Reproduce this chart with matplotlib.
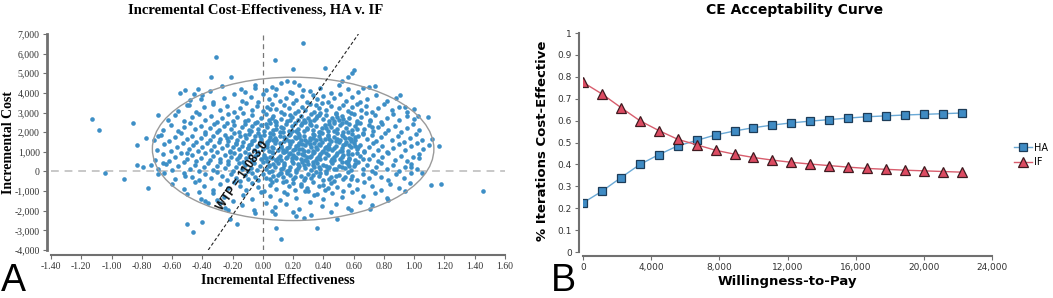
import math
import matplotlib
matplotlib.use("Agg")
import matplotlib.pyplot as plt
from matplotlib.patches import Ellipse
from matplotlib.ticker import FuncFormatter, MultipleLocator

# --- CEAC data (panel B) ---
wtp_values = [0, 1111, 2222, 3333, 4444, 5556, 6667, 7778, 8889, 10000, 11111,
              12222, 13333, 14444, 15556, 16667, 17778, 18889, 20000, 21111, 22222]
ha_values = [0.225, 0.278, 0.340, 0.400, 0.445, 0.485, 0.510, 0.535, 0.553, 0.568, 0.580,
             0.590, 0.598, 0.605, 0.612, 0.618, 0.622, 0.626, 0.629, 0.632, 0.635]
if_values = [0.775, 0.722, 0.660, 0.600, 0.555, 0.515, 0.490, 0.465, 0.447, 0.432, 0.420,
             0.410, 0.402, 0.395, 0.388, 0.382, 0.378, 0.374, 0.371, 0.368, 0.365]

# --- ICE scatter data (panel A) ---
wtp_threshold = 11083.0
ellipse_center = (0.20, 1150)
ellipse_size = (1.86, 7300)

outlier_points = [
    (-1.13, 2650), (-1.08, 2090), (-0.86, 2450), (-0.83, 1330), (-0.775, 1680), (-0.69, 2860),
    (-0.69, 1800), (-0.55, 3980), (-0.515, 4150), (-0.49, 3400), (-0.456, 3950), (-0.43, 4220),
    (-0.41, 3670), (-0.345, 4830), (-0.31, 5850), (-0.21, 4800), (0.08, 5680), (0.196, 5200),
    (0.267, 6530), (0.41, 5250), (0.60, 5170), (0.59, 5035), (0.565, 4830), (0.524, 4610),
    (0.74, 4350), (0.66, 4230), (0.905, 3890), (0.94, 3260), (1.025, 2820), (1.09, 2790),
    (1.165, 1290), (0.157, 4610), (0.205, 4575), (0.09, 4220), (-0.053, 4270), (-0.147, 4180),
    (0.262, 4150), (-1.04, -100), (-0.92, -370), (-0.83, 320), (-0.79, 220), (-0.76, -830),
    (-0.736, 320), (-0.69, -150), (-0.66, 410), (-0.50, -2700), (-0.46, -3100), (-0.40, -2590),
    (-0.22, -2400), (-0.17, -2650), (0.084, -2890), (0.12, -3440), (0.36, -2900), (0.49, -2400),
    (0.58, -1940), (0.71, -1900), (0.83, -1430), (0.94, -1000), (0.97, -580), (1.05, -100),
    (1.108, -680), (1.18, -630), (1.456, -990), (1.115, 1650), (0.98, 240), (1.03, 700),
    (0.32, -2200), (0.20, -2070), (-0.515, -240), (-0.504, 950), (-0.42, -1050), (-0.38, -1500),
    (-0.306, -1460), (-0.28, -1600), (-0.23, -1940),
]

core_points = [
    # 4000 .. 4500
    (-0.35, 4100), (-0.27, 4350), (-0.12, 4050), (-0.05, 4400), (0.02, 4150), (0.06, 4300),
    (0.12, 4480), (0.18, 4050), (0.24, 4380), (0.31, 4120), (0.38, 4250), (0.45, 4020),
    (0.50, 4420), (0.56, 4180), (0.63, 4050), (0.70, 4300),
    # 3500 .. 4000
    (-0.48, 3620), (-0.40, 3880), (-0.33, 3550), (-0.26, 3760), (-0.19, 3920), (-0.14, 3600),
    (-0.08, 3810), (-0.03, 3540), (0.00, 3950), (0.04, 3700), (0.08, 3870), (0.11, 3580),
    (0.15, 3760), (0.19, 3990), (0.22, 3640), (0.26, 3820), (0.29, 3530), (0.33, 3910),
    (0.36, 3690), (0.40, 3850), (0.43, 3560), (0.47, 3740), (0.51, 3960), (0.55, 3600),
    (0.59, 3800), (0.64, 3520), (0.69, 3700), (0.75, 3900), (0.82, 3580), (0.88, 3750),
    # 3000 .. 3500
    (-0.56, 3100), (-0.50, 3380), (-0.44, 3050), (-0.39, 3260), (-0.33, 3450), (-0.28, 3150),
    (-0.24, 3320), (-0.19, 3020), (-0.15, 3240), (-0.11, 3470), (-0.07, 3130), (-0.04, 3350),
    (0.00, 3060), (0.03, 3280), (0.06, 3440), (0.09, 3170), (0.12, 3010), (0.14, 3360),
    (0.17, 3210), (0.20, 3480), (0.23, 3090), (0.26, 3300), (0.28, 3150), (0.31, 3420),
    (0.34, 3040), (0.37, 3250), (0.39, 3470), (0.42, 3120), (0.45, 3330), (0.48, 3000),
    (0.50, 3220), (0.53, 3400), (0.56, 3080), (0.59, 3290), (0.62, 3460), (0.65, 3150),
    (0.68, 3350), (0.72, 3030), (0.76, 3240), (0.80, 3450), (0.85, 3110), (0.90, 3300),
    (0.95, 3050), (1.00, 3200), (0.05, 3180), (0.35, 3380),
    # 2500 .. 3000
    (-0.63, 2600), (-0.58, 2850), (-0.52, 2550), (-0.47, 2750), (-0.42, 2950), (-0.38, 2620),
    (-0.34, 2820), (-0.30, 2510), (-0.27, 2700), (-0.23, 2910), (-0.20, 2580), (-0.17, 2790),
    (-0.13, 2980), (-0.10, 2640), (-0.07, 2860), (-0.04, 2530), (-0.01, 2730), (0.02, 2940),
    (0.04, 2600), (0.07, 2810), (0.09, 2500), (0.12, 2690), (0.14, 2900), (0.16, 2570),
    (0.19, 2770), (0.21, 2970), (0.23, 2630), (0.25, 2840), (0.28, 2540), (0.30, 2720),
    (0.32, 2930), (0.34, 2600), (0.36, 2800), (0.38, 2990), (0.40, 2660), (0.42, 2870),
    (0.44, 2550), (0.46, 2740), (0.48, 2950), (0.50, 2610), (0.52, 2820), (0.55, 2520),
    (0.57, 2710), (0.60, 2900), (0.62, 2580), (0.65, 2780), (0.68, 2960), (0.71, 2640),
    (0.74, 2850), (0.78, 2540), (0.82, 2730), (0.86, 2920), (0.90, 2600), (0.95, 2800),
    (1.00, 2680), (0.18, 2860), (0.27, 2610), (0.37, 2890), (0.47, 2580), (0.58, 2980),
    (0.06, 2700), (-0.12, 2550),
    # 2000 .. 2500
    (-0.66, 2100), (-0.61, 2380), (-0.56, 2040), (-0.52, 2260), (-0.48, 2470), (-0.45, 2150),
    (-0.41, 2330), (-0.38, 2020), (-0.35, 2210), (-0.32, 2440), (-0.29, 2090), (-0.26, 2300),
    (-0.24, 2480), (-0.21, 2170), (-0.19, 2360), (-0.16, 2030), (-0.14, 2240), (-0.12, 2420),
    (-0.09, 2110), (-0.07, 2310), (-0.05, 2490), (-0.03, 2180), (-0.01, 2370), (0.01, 2060),
    (0.03, 2250), (0.05, 2450), (0.07, 2130), (0.09, 2340), (0.11, 2010), (0.13, 2200),
    (0.15, 2400), (0.17, 2080), (0.19, 2290), (0.21, 2470), (0.23, 2160), (0.25, 2350),
    (0.27, 2040), (0.29, 2230), (0.31, 2430), (0.33, 2120), (0.35, 2320), (0.37, 2000),
    (0.39, 2190), (0.41, 2390), (0.43, 2070), (0.45, 2280), (0.47, 2460), (0.49, 2150),
    (0.51, 2340), (0.53, 2030), (0.55, 2220), (0.57, 2420), (0.59, 2100), (0.61, 2300),
    (0.64, 2480), (0.67, 2170), (0.70, 2360), (0.73, 2050), (0.76, 2250), (0.79, 2440),
    (0.83, 2130), (0.87, 2320), (0.91, 2020), (0.95, 2210), (0.99, 2400), (1.03, 2110),
    (0.12, 2270), (0.22, 2050), (0.32, 2380), (0.42, 2230), (0.52, 2470), (0.02, 2410),
    (-0.08, 2060), (0.62, 2140), (0.72, 2280),
    # 1500 .. 2000
    (-0.72, 1600), (-0.67, 1880), (-0.62, 1540), (-0.58, 1760), (-0.54, 1950), (-0.50, 1630),
    (-0.47, 1830), (-0.44, 1520), (-0.41, 1710), (-0.38, 1920), (-0.35, 1580), (-0.33, 1790),
    (-0.30, 1990), (-0.28, 1650), (-0.25, 1860), (-0.23, 1530), (-0.21, 1740), (-0.19, 1940),
    (-0.17, 1610), (-0.15, 1820), (-0.13, 1500), (-0.11, 1700), (-0.09, 1900), (-0.07, 1570),
    (-0.05, 1780), (-0.03, 1970), (-0.01, 1640), (0.01, 1850), (0.03, 1520), (0.05, 1730),
    (0.07, 1930), (0.09, 1600), (0.11, 1810), (0.13, 1990), (0.15, 1670), (0.17, 1870),
    (0.19, 1550), (0.21, 1750), (0.23, 1960), (0.25, 1620), (0.27, 1830), (0.29, 1510),
    (0.31, 1720), (0.33, 1920), (0.35, 1590), (0.37, 1800), (0.39, 1980), (0.41, 1660),
    (0.43, 1860), (0.45, 1540), (0.47, 1740), (0.49, 1950), (0.51, 1610), (0.53, 1820),
    (0.55, 1500), (0.57, 1710), (0.59, 1910), (0.61, 1580), (0.63, 1790), (0.66, 1970),
    (0.69, 1650), (0.72, 1850), (0.75, 1530), (0.78, 1730), (0.81, 1940), (0.85, 1600),
    (0.89, 1800), (0.93, 1520), (0.97, 1720), (1.01, 1900), (1.05, 1620), (0.08, 1700),
    (0.18, 1920), (0.28, 1580), (0.38, 1660), (0.48, 1560), (0.58, 1640), (0.14, 1560),
    (0.24, 1760), (0.34, 1880), (0.44, 1640), (0.54, 1700), (-0.02, 1800), (0.04, 1620),
    # 1000 .. 1500
    (-0.70, 1100), (-0.65, 1380), (-0.61, 1050), (-0.57, 1260), (-0.53, 1470), (-0.49, 1140),
    (-0.46, 1340), (-0.43, 1020), (-0.40, 1220), (-0.37, 1430), (-0.34, 1090), (-0.32, 1300),
    (-0.29, 1490), (-0.27, 1170), (-0.24, 1370), (-0.22, 1040), (-0.20, 1250), (-0.18, 1450),
    (-0.16, 1120), (-0.14, 1320), (-0.12, 1000), (-0.10, 1200), (-0.08, 1410), (-0.06, 1080),
    (-0.04, 1280), (-0.02, 1480), (0.00, 1150), (0.02, 1350), (0.04, 1030), (0.06, 1230),
    (0.08, 1440), (0.10, 1110), (0.12, 1310), (0.14, 1010), (0.16, 1210), (0.18, 1420),
    (0.20, 1090), (0.22, 1290), (0.24, 1470), (0.26, 1160), (0.28, 1360), (0.30, 1050),
    (0.32, 1250), (0.34, 1450), (0.36, 1130), (0.38, 1330), (0.40, 1020), (0.42, 1220),
    (0.44, 1420), (0.46, 1100), (0.48, 1300), (0.50, 1480), (0.52, 1180), (0.54, 1380),
    (0.56, 1060), (0.58, 1260), (0.60, 1460), (0.62, 1140), (0.64, 1340), (0.67, 1030),
    (0.70, 1230), (0.73, 1430), (0.76, 1110), (0.79, 1310), (0.82, 1010), (0.86, 1210),
    (0.90, 1410), (0.94, 1090), (0.98, 1290), (1.02, 1470), (1.06, 1160), (1.10, 1360),
    (0.07, 1180), (0.17, 1270), (0.27, 1060), (0.37, 1400), (0.47, 1190), (0.57, 1350),
    (0.11, 1460), (0.21, 1140), (0.31, 1390), (0.41, 1170), (0.51, 1040), (0.61, 1280),
    (-0.09, 1330), (0.03, 1250), (0.13, 1100), (0.23, 1360), (0.33, 1030), (0.43, 1290),
    # 500 .. 1000
    (-0.71, 600), (-0.66, 880), (-0.62, 540), (-0.58, 760), (-0.54, 950), (-0.50, 630),
    (-0.47, 830), (-0.44, 520), (-0.41, 710), (-0.38, 920), (-0.35, 580), (-0.33, 790),
    (-0.30, 990), (-0.28, 650), (-0.25, 860), (-0.23, 530), (-0.21, 740), (-0.19, 940),
    (-0.17, 610), (-0.15, 820), (-0.13, 500), (-0.11, 700), (-0.09, 900), (-0.07, 570),
    (-0.05, 780), (-0.03, 970), (-0.01, 640), (0.01, 850), (0.03, 520), (0.05, 730),
    (0.07, 930), (0.09, 600), (0.11, 810), (0.13, 990), (0.15, 670), (0.17, 870),
    (0.19, 550), (0.21, 750), (0.23, 960), (0.25, 620), (0.27, 830), (0.29, 510),
    (0.31, 720), (0.33, 920), (0.35, 590), (0.37, 800), (0.39, 980), (0.41, 660),
    (0.43, 860), (0.45, 540), (0.47, 740), (0.49, 950), (0.51, 610), (0.53, 820),
    (0.55, 500), (0.57, 710), (0.59, 910), (0.61, 580), (0.64, 790), (0.67, 970),
    (0.70, 650), (0.73, 850), (0.76, 530), (0.79, 730), (0.83, 940), (0.87, 600),
    (0.91, 800), (0.95, 520), (0.99, 720), (1.03, 900), (0.06, 660), (0.16, 760),
    (0.26, 900), (0.36, 700), (0.46, 640), (0.56, 880), (0.12, 560), (0.22, 680),
    (0.32, 780), (0.42, 960), (0.52, 720), (0.02, 690), (0.18, 930),
    # 0 .. 500
    (-0.69, 100), (-0.64, 380), (-0.60, 50), (-0.56, 260), (-0.52, 470), (-0.48, 140),
    (-0.45, 340), (-0.42, 20), (-0.39, 220), (-0.36, 430), (-0.33, 90), (-0.30, 300),
    (-0.28, 490), (-0.25, 170), (-0.23, 370), (-0.20, 40), (-0.18, 250), (-0.16, 450),
    (-0.14, 120), (-0.12, 320), (-0.10, 10), (-0.08, 200), (-0.06, 410), (-0.04, 80),
    (-0.02, 280), (0.00, 480), (0.02, 150), (0.04, 350), (0.06, 30), (0.08, 230),
    (0.10, 440), (0.12, 110), (0.14, 310), (0.16, 10), (0.18, 210), (0.20, 420),
    (0.22, 90), (0.24, 290), (0.26, 470), (0.28, 160), (0.30, 360), (0.32, 50),
    (0.34, 250), (0.36, 450), (0.38, 130), (0.40, 330), (0.42, 20), (0.44, 220),
    (0.46, 420), (0.48, 100), (0.50, 300), (0.52, 480), (0.54, 180), (0.56, 380),
    (0.58, 60), (0.60, 260), (0.63, 460), (0.66, 140), (0.69, 340), (0.72, 30),
    (0.75, 230), (0.78, 430), (0.82, 110), (0.86, 310), (0.90, 20), (0.94, 210),
    (0.98, 400), (1.02, 120), (0.07, 390), (0.17, 60), (0.27, 330), (0.37, 240),
    (0.47, 140), (0.57, 290), (0.13, 190), (0.23, 380), (0.33, 460), (0.43, 170),
    # -500 .. 0
    (-0.65, -100), (-0.58, -380), (-0.52, -60), (-0.47, -260), (-0.42, -450), (-0.38, -140),
    (-0.34, -340), (-0.30, -30), (-0.27, -230), (-0.24, -430), (-0.21, -110), (-0.18, -310),
    (-0.15, -480), (-0.12, -180), (-0.10, -380), (-0.07, -60), (-0.05, -260), (-0.03, -460),
    (0.00, -140), (0.02, -340), (0.04, -20), (0.07, -220), (0.09, -420), (0.11, -100),
    (0.13, -300), (0.15, -490), (0.18, -170), (0.20, -370), (0.22, -50), (0.25, -250),
    (0.27, -450), (0.30, -130), (0.32, -330), (0.35, -20), (0.37, -220), (0.40, -410),
    (0.42, -90), (0.45, -290), (0.47, -470), (0.50, -160), (0.53, -360), (0.56, -40),
    (0.59, -240), (0.62, -440), (0.66, -120), (0.70, -320), (0.74, -70), (0.78, -270),
    (0.83, -450), (0.88, -150), (0.93, -350), (0.98, -60), (0.10, -200), (0.28, -310),
    (0.38, -80), (0.48, -240), (0.16, -90), (0.58, -360),
    # -1000 .. -500
    (-0.60, -620), (-0.52, -880), (-0.45, -560), (-0.39, -760), (-0.33, -950), (-0.28, -640),
    (-0.23, -840), (-0.19, -530), (-0.15, -720), (-0.11, -920), (-0.07, -600), (-0.03, -800),
    (0.01, -990), (0.05, -680), (0.09, -880), (0.13, -560), (0.17, -760), (0.21, -960),
    (0.25, -640), (0.29, -840), (0.33, -520), (0.37, -720), (0.41, -920), (0.45, -600),
    (0.49, -800), (0.53, -980), (0.57, -680), (0.62, -880), (0.67, -560), (0.72, -760),
    (0.78, -960), (0.84, -640), (0.90, -840), (0.20, -580), (0.40, -680), (0.06, -560),
    (0.30, -980),
    # -1500 .. -1000
    (-0.50, -1150), (-0.41, -1400), (-0.33, -1080), (-0.26, -1300), (-0.20, -1480),
    (-0.13, -1180), (-0.07, -1380), (-0.01, -1060), (0.05, -1260), (0.11, -1460),
    (0.16, -1140), (0.22, -1340), (0.28, -1020), (0.34, -1220), (0.40, -1420),
    (0.46, -1100), (0.52, -1300), (0.59, -1050), (0.66, -1250), (0.74, -1120),
    (0.82, -1350), (0.14, -1040), (0.36, -1130),
    # -2000 .. -1500
    (-0.36, -1620), (-0.25, -1850), (-0.14, -1700), (-0.06, -1950), (0.02, -1600),
    (0.08, -1800), (0.15, -1680), (0.24, -1900), (0.31, -1560), (0.39, -1760),
    (0.48, -1640), (0.56, -1860), (0.64, -1580), (0.72, -1700), (0.06, -2000),
    # below -2000
    (0.08, -2150), (0.22, -2250), (-0.05, -2100), (0.45, -2050), (0.27, -2350),
]

# the densest part of the cloud, right of the y axis
dense_points = [
    (0.05, 1950), (0.09, 2180), (0.14, 1730), (0.19, 2050), (0.24, 1880), (0.29, 2140),
    (0.33, 1700), (0.38, 2010), (0.43, 1790), (0.47, 2060), (0.52, 1880), (0.56, 2000),
    (0.61, 1750), (0.66, 1900), (0.03, 1380), (0.07, 1600), (0.12, 1240), (0.17, 1530),
    (0.22, 1700), (0.26, 1420), (0.31, 1580), (0.35, 1270), (0.39, 1520), (0.44, 1180),
    (0.49, 1640), (0.53, 1330), (0.58, 1560), (0.63, 1220), (0.01, 760), (0.06, 980),
    (0.10, 690), (0.15, 1060), (0.20, 850), (0.24, 1140), (0.29, 760), (0.34, 1010),
    (0.38, 880), (0.43, 1120), (0.48, 820), (0.52, 1040), (0.57, 640), (0.62, 940),
    (0.04, 260), (0.09, 560), (0.14, 420), (0.19, 660), (0.23, 180), (0.28, 560),
    (0.33, 340), (0.38, 620), (0.42, 270), (0.47, 580), (0.52, 220), (0.56, 530),
    (0.61, 380), (0.66, 620), (0.18, 2620), (0.26, 2480), (0.35, 2710), (0.44, 2400),
    (0.53, 2650), (0.62, 2460), (0.71, 2560), (0.08, 2580), (0.31, 2560), (0.49, 2780),
    (-0.06, 1600), (-0.12, 1870), (-0.18, 1420), (-0.24, 1700), (-0.04, 890), (-0.10, 1180),
    (-0.16, 740), (-0.22, 1010), (0.12, -60), (0.21, -280), (0.33, -160), (0.44, -360),
    (0.54, -260), (0.05, -400), (0.25, -720), (0.43, -820),
]

x_ticks = [-1.4 + 0.2 * i for i in range(16)]
y_ticks = list(range(-4000, 7001, 1000))

SCATTER_BLUE = "#3d8fc6"
AXIS_GREY = "#707070"

fig = plt.figure(figsize=(10.53, 2.98), dpi=100)

# ---------------- Panel A ----------------
serif = "Liberation Serif"
ax1 = fig.add_axes([0.0484, 0.161, 0.4312, 0.725])
ax1.set_xlim(-1.4, 1.6)
ax1.set_ylim(-4000, 7000)

pts = core_points + dense_points + outlier_points
ax1.scatter([p[0] for p in pts], [p[1] for p in pts], s=11, color=SCATTER_BLUE,
            linewidths=0, zorder=3)

ax1.add_patch(Ellipse(ellipse_center, ellipse_size[0], ellipse_size[1], fill=False,
                      edgecolor="#9a9a9a", lw=1.0, zorder=4))
ax1.axhline(0, color="#c8c8c8", ls=(0, (4, 3)), lw=1.4, zorder=2)
ax1.plot([0, 0], [-4000, 7000], color="#777777", ls=(0, (4, 3)), lw=0.9, zorder=2)

# WTP threshold line through the origin
wy = [-4000, 7000]
ax1.plot([v / wtp_threshold for v in wy], wy, color="#222222", ls=(0, (3, 2)),
         lw=0.8, zorder=5)
p0 = ax1.transData.transform((0, 0))
p1 = ax1.transData.transform((7000 / wtp_threshold, 7000))
angle = math.degrees(math.atan2(p1[1] - p0[1], p1[0] - p0[0]))
ax1.text(-0.13, -250, f"WTP = {wtp_threshold:.1f}", rotation=angle, rotation_mode="anchor",
         ha="center", va="center", fontsize=8.5, fontweight="bold",
         family="Liberation Sans", color="#111111", zorder=6)

ax1.set_xticks(x_ticks)
ax1.set_yticks(y_ticks)
ax1.xaxis.set_major_formatter(FuncFormatter(lambda v, p: f"{v:.2f}"))
ax1.yaxis.set_major_formatter(FuncFormatter(lambda v, p: f"{v:,.0f}"))
for s in ("top", "right"):
    ax1.spines[s].set_visible(False)
ax1.spines["left"].set_position(("outward", 3))
ax1.spines["bottom"].set_position(("outward", 3.6))
ax1.spines["left"].set_linewidth(2)
ax1.spines["bottom"].set_linewidth(1.5)
for s in ("left", "bottom"):
    ax1.spines[s].set_color(AXIS_GREY)
ax1.tick_params(length=3, width=0.8, color=AXIS_GREY, labelsize=7, labelcolor="#333333",
                pad=2)
for lab in ax1.get_xticklabels() + ax1.get_yticklabels():
    lab.set_family(serif)

fig.text(256 / 1053, 1 - 10 / 298, "Incremental Cost-Effectiveness, HA v. IF",
         ha="center", va="center", family=serif, fontweight="bold", fontsize=10.5)
fig.text(278 / 1053, 1 - 281 / 298, "Incremental Effectiveness", ha="center", va="center",
         family=serif, fontweight="bold", fontsize=10)
fig.text(9 / 1053, 1 - 143 / 298, "Incremental Cost", ha="center", va="center",
         rotation=90, family=serif, fontweight="bold", fontsize=10)

# ---------------- Panel B ----------------
ax2 = fig.add_axes([0.5537, 0.154, 0.3884, 0.735])
ax2.plot(wtp_values, ha_values, color="#6aa9d6", lw=1.0, marker="s", markersize=6,
         markerfacecolor="#3f8bc4", markeredgecolor="#1d3c58", markeredgewidth=0.9,
         label="HA", zorder=3)
ax2.plot(wtp_values, if_values, color="#d85d6d", lw=1.0, marker="^", markersize=6.5,
         markerfacecolor="#dc4b62", markeredgecolor="#3f1a20", markeredgewidth=0.9,
         label="IF", zorder=4)
ax2.set_xlim(0, 24000)
ax2.set_ylim(0, 1)
ax2.xaxis.set_major_locator(MultipleLocator(4000))
ax2.yaxis.set_major_locator(MultipleLocator(0.1))
ax2.xaxis.set_major_formatter(FuncFormatter(lambda v, p: f"{v:,.0f}"))
ax2.yaxis.set_major_formatter(FuncFormatter(lambda v, p: f"{v:.1f}".rstrip("0").rstrip(".")
                                            if v not in (0, 1) else f"{v:.0f}"))
for s in ("top", "right"):
    ax2.spines[s].set_visible(False)
ax2.spines["left"].set_position(("outward", 3))
ax2.spines["bottom"].set_position(("outward", 3))
for s in ("left", "bottom"):
    ax2.spines[s].set_color(AXIS_GREY)
    ax2.spines[s].set_linewidth(1.5)
ax2.tick_params(length=3, width=0.8, color=AXIS_GREY, labelsize=6.5, labelcolor="#333333",
                pad=2)

fig.legend(loc="center left", bbox_to_anchor=(1014 / 1053, 1 - 155 / 298), frameon=False,
           fontsize=7, handlelength=1.8, handletextpad=0.3, labelspacing=0.5,
           borderaxespad=0, borderpad=0)

fig.text(795 / 1053, 1 - 10 / 298, "CE Acceptability Curve", ha="center", va="center",
         fontweight="bold", fontsize=10)
fig.text(787 / 1053, 1 - 281 / 298, "Willingness-to-Pay", ha="center", va="center",
         fontweight="bold", fontsize=9.5)
fig.text(543 / 1053, 1 - 141 / 298, "% Iterations Cost-Effective", ha="center", va="center",
         rotation=90, fontweight="bold", fontsize=9.5)

# panel letters
fig.text(0.001, 0.022, "A", family="Liberation Sans", fontsize=27, va="baseline", ha="left")
fig.text(551 / 1053, 0.022, "B", family="Liberation Sans", fontsize=27, va="baseline",
         ha="left")

fig.savefig("out.png", dpi=100)
